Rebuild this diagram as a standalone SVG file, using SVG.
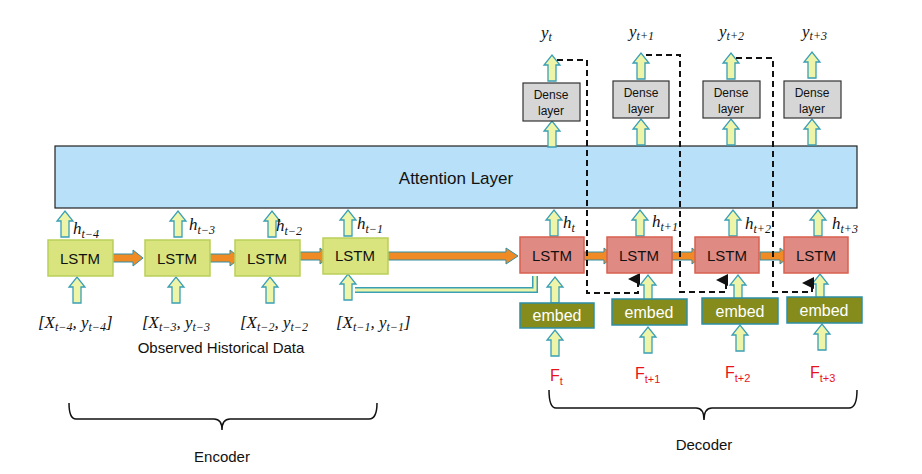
<svg xmlns="http://www.w3.org/2000/svg" width="922" height="474" viewBox="0 0 922 474">
<defs>
<style>
text{font-family:"Liberation Sans",Arial,sans-serif;fill:#111}
.m{font-family:"Liberation Serif","DejaVu Serif",serif;font-style:italic}
.enc{fill:#d9e47f;stroke:#b9cf5a;stroke-width:1.5}
.dec{fill:#e08a84;stroke:#d8604f;stroke-width:1.5}
.emb{fill:#858c1c;stroke:#2e8fa6;stroke-width:1.5}
.den{fill:#d6d6d6;stroke:#333;stroke-width:1.2}
.ua{fill:#eef5a8;stroke:#3a9fb5;stroke-width:1.3}
.oa{fill:#f08a24;stroke:#2e8fa6;stroke-width:1}
.dash{fill:none;stroke:#111;stroke-width:2;stroke-dasharray:6,4}
.br{fill:none;stroke:#111;stroke-width:1.5}
</style>
<path id="up" class="ua" d="M-4,26 V10 H-8 L0,0 L8,10 H4 V26 Z"/>
<path id="ra" class="oa" d="M0,-4 H20 V-8 L30,0 L20,8 V4 H0 Z"/>
<marker id="ah" markerWidth="6" markerHeight="6" refX="3" refY="5" orient="auto-start-reverse" viewBox="0 0 6 6"><path d="M0,6 L3,0 L6,6Z" fill="#111"/></marker>
</defs>
<rect width="922" height="474" fill="#fff"/>
<g id="attention"><rect x="55" y="146" width="802" height="62" fill="#b8e0f8" stroke="#222" stroke-width="1.2"/><text x="456" y="184" font-size="17" text-anchor="middle">Attention Layer</text></g>
<g id="connectors">
<use href="#up" x="65" y="211"/><use href="#up" x="178" y="211"/><use href="#up" x="272" y="211"/><use href="#up" x="348" y="210"/>
<use href="#up" x="77" y="277"/><use href="#up" x="176" y="277"/><use href="#up" x="270" y="277"/><use href="#up" x="348" y="274"/>
<use href="#up" x="554" y="210"/><use href="#up" x="640" y="210"/><use href="#up" x="733" y="210"/><use href="#up" x="818" y="210"/>
<use href="#up" x="555" y="277"/><use href="#up" x="648" y="275"/><use href="#up" x="738" y="275"/><use href="#up" x="820" y="274"/>
<use href="#up" x="555" y="330"/><use href="#up" x="648" y="327"/><use href="#up" x="740" y="325"/><use href="#up" x="822" y="324"/>
<use href="#up" x="552" y="121"/><use href="#up" x="641" y="119"/><use href="#up" x="731" y="119"/><use href="#up" x="812" y="119"/>
<use href="#up" x="552" y="55"/><use href="#up" x="641" y="53"/><use href="#up" x="731" y="53"/><use href="#up" x="812" y="52"/>
<use href="#ra" x="113" y="258"/><use href="#ra" x="210" y="258"/><use href="#ra" x="300" y="256"/>
<path class="oa" d="M388,252 H506 V248 L518,256 L506,264 V260 H388 Z"/>
<use href="#ra" x="584" y="256"/><use href="#ra" x="672" y="256"/><use href="#ra" x="760" y="256"/>
<path d="M355,290 H535 V276" fill="none" stroke="#3a9fb5" stroke-width="6"/>
<path d="M355,290 H535 V276" fill="none" stroke="#eef5a8" stroke-width="3"/>
<path class="dash" d="M557,60 H587 V293 H638 V279" marker-end="url(#ah)"/>
<path class="dash" d="M646,55 H680 V292 H726 V280" marker-end="url(#ah)"/>
<path class="dash" d="M736,58 H773 V292 H812 V283" marker-end="url(#ah)"/>
<path class="br" d="M69,403 Q69,419 76,419 H214 Q222,419 222,430 Q222,419 230,419 H369 Q377,419 377,403"/>
<path class="br" d="M549,390 Q549,408 556,408 H696 Q704,408 704,420 Q704,408 712,408 H849 Q857,408 857,390"/>
</g>
<g id="enc1"><rect class="enc" x="48" y="240" width="65" height="36"/><text x="80" y="264" font-size="15" text-anchor="middle">LSTM</text></g>
<g id="enc2"><rect class="enc" x="145" y="240" width="65" height="36"/><text x="177" y="264" font-size="15" text-anchor="middle">LSTM</text></g>
<g id="enc3"><rect class="enc" x="235" y="240" width="65" height="36"/><text x="267" y="264" font-size="15" text-anchor="middle">LSTM</text></g>
<g id="enc4"><rect class="enc" x="323" y="238" width="65" height="36"/><text x="355" y="261" font-size="15" text-anchor="middle">LSTM</text></g>
<g id="hlabels" font-size="17">
<text class="m" x="73" y="234">h<tspan font-size="12" dy="4">t−4</tspan></text>
<text class="m" x="189" y="230">h<tspan font-size="12" dy="4">t−3</tspan></text>
<text class="m" x="276" y="231">h<tspan font-size="12" dy="4">t−2</tspan></text>
<text class="m" x="357" y="229">h<tspan font-size="12" dy="4">t−1</tspan></text>
<text class="m" x="563" y="228">h<tspan font-size="12" dy="4">t</tspan></text>
<text class="m" x="652" y="227">h<tspan font-size="12" dy="4">t+1</tspan></text>
<text class="m" x="745" y="229">h<tspan font-size="12" dy="4">t+2</tspan></text>
<text class="m" x="832" y="229">h<tspan font-size="12" dy="4">t+3</tspan></text>
</g>
<g id="inputs" font-size="17">
<text class="m" x="38" y="328">[X<tspan font-size="12" dy="3">t−4</tspan><tspan dy="-3">, y</tspan><tspan font-size="12" dy="3">t−4</tspan><tspan dy="-3">]</tspan></text>
<text class="m" x="142" y="328">[X<tspan font-size="12" dy="3">t−3</tspan><tspan dy="-3">, y</tspan><tspan font-size="12" dy="3">t−3</tspan></text>
<text class="m" x="240" y="328">[X<tspan font-size="12" dy="3">t−2</tspan><tspan dy="-3">, y</tspan><tspan font-size="12" dy="3">t−2</tspan></text>
<text class="m" x="336" y="328">[X<tspan font-size="12" dy="3">t−1</tspan><tspan dy="-3">, y</tspan><tspan font-size="12" dy="3">t−1</tspan><tspan dy="-3">]</tspan></text>
<text x="221" y="353" font-size="15" text-anchor="middle">Observed Historical Data</text>
</g>
<g id="dec1"><rect class="dec" x="520" y="237" width="64" height="36"/><text x="552" y="261" font-size="15" text-anchor="middle">LSTM</text></g>
<g id="dec2"><rect class="dec" x="607" y="237" width="65" height="36"/><text x="639" y="261" font-size="15" text-anchor="middle">LSTM</text></g>
<g id="dec3"><rect class="dec" x="695" y="237" width="64" height="36"/><text x="727" y="261" font-size="15" text-anchor="middle">LSTM</text></g>
<g id="dec4"><rect class="dec" x="784" y="237" width="64" height="36"/><text x="816" y="261" font-size="15" text-anchor="middle">LSTM</text></g>
<g id="emb1"><rect class="emb" x="520" y="303" width="74" height="25"/><text x="557" y="321" font-size="16" fill="#fff" style="fill:#fff" text-anchor="middle">embed</text></g>
<g id="emb2"><rect class="emb" x="612" y="299" width="75" height="26"/><text x="649" y="318" font-size="16" style="fill:#fff" text-anchor="middle">embed</text></g>
<g id="emb3"><rect class="emb" x="702" y="298" width="76" height="26"/><text x="740" y="317" font-size="16" style="fill:#fff" text-anchor="middle">embed</text></g>
<g id="emb4"><rect class="emb" x="787" y="297" width="75" height="26"/><text x="824" y="316" font-size="16" style="fill:#fff" text-anchor="middle">embed</text></g>
<g id="flabels" font-size="16" style="fill:red">
<text x="550" y="381" style="fill:#e8131b">F<tspan font-size="11" dy="4">t</tspan></text>
<text x="635" y="379" style="fill:#e8131b">F<tspan font-size="11" dy="4">t+1</tspan></text>
<text x="725" y="378" style="fill:#e8131b">F<tspan font-size="11" dy="4">t+2</tspan></text>
<text x="810" y="378" style="fill:#e8131b">F<tspan font-size="11" dy="4">t+3</tspan></text>
</g>
<g id="dense1"><rect class="den" x="523" y="83" width="57" height="38"/><text x="551" y="99" font-size="12" text-anchor="middle">Dense</text><text x="551" y="115" font-size="12" text-anchor="middle">layer</text></g>
<g id="dense2"><rect class="den" x="613" y="81" width="56" height="37"/><text x="641" y="97" font-size="12" text-anchor="middle">Dense</text><text x="641" y="113" font-size="12" text-anchor="middle">layer</text></g>
<g id="dense3"><rect class="den" x="703" y="81" width="57" height="37"/><text x="731" y="97" font-size="12" text-anchor="middle">Dense</text><text x="731" y="113" font-size="12" text-anchor="middle">layer</text></g>
<g id="dense4"><rect class="den" x="784" y="81" width="57" height="37"/><text x="812" y="97" font-size="12" text-anchor="middle">Dense</text><text x="812" y="113" font-size="12" text-anchor="middle">layer</text></g>
<g id="ylabels" font-size="17">
<text class="m" x="541" y="38">y<tspan font-size="12" dy="3">t</tspan></text>
<text class="m" x="629" y="37">y<tspan font-size="12" dy="3">t+1</tspan></text>
<text class="m" x="719" y="37">y<tspan font-size="12" dy="3">t+2</tspan></text>
<text class="m" x="802" y="37">y<tspan font-size="12" dy="3">t+3</tspan></text>
</g>
<text x="222" y="462" font-size="15" text-anchor="middle">Encoder</text>
<text x="704" y="450" font-size="15" text-anchor="middle">Decoder</text>
</svg>
